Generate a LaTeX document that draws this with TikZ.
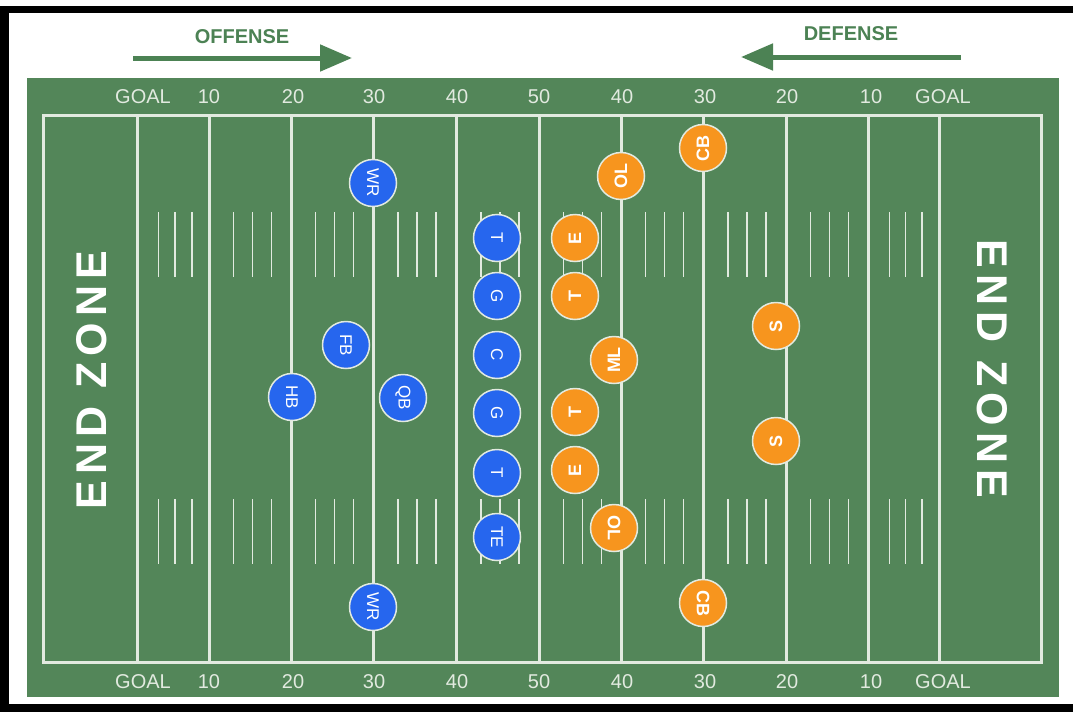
\documentclass[tikz,border=0pt]{standalone}
\usepackage{fontspec}
\setmainfont{Liberation Sans}
\newfontfamily\zonefont[LetterSpace=14]{Liberation Sans}
\usetikzlibrary{arrows.meta,positioning}

\definecolor{fieldgreen}{RGB}{83,134,89}
\definecolor{chalk}{RGB}{226,234,224}
\definecolor{offblue}{RGB}{38,102,238}
\definecolor{deforange}{RGB}{247,149,30}
\definecolor{titlegreen}{RGB}{76,130,84}

\begin{document}
\begin{tikzpicture}[
    x=1pt,
    y=-1pt,
    yardline/.style={
        draw=chalk,
        line width=3pt
    },
    hashmark/.style={
        draw=chalk,
        line width=1.6pt
    },
    yardnum/.style={
        text=chalk,
        inner sep=0pt,
        font=\fontsize{20}{20}\selectfont
    },
    endzone/.style={
        text=white,
        inner sep=0pt,
        font=\zonefont\bfseries\fontsize{43}{43}\selectfont
    },
    player/.style={
        circle,
        draw=chalk,
        line width=1.5pt,
        minimum size=47pt,
        inner sep=0pt,
        text=white
    },
    offense/.style={
        player,
        fill=offblue,
        rotate=-90,
        font=\fontsize{17}{17}\selectfont
    },
    defense/.style={
        player,
        fill=deforange,
        rotate=90,
        font=\bfseries\fontsize{18}{18}\selectfont
    },
    defensedown/.style={
        player,
        fill=deforange,
        rotate=-90,
        font=\bfseries\fontsize{18}{18}\selectfont
    },
    title/.style={
        text=titlegreen,
        font=\bfseries\fontsize{20}{20}\selectfont
    },
    direction/.style={
        draw=titlegreen, line width=5pt, -{Triangle[length=32pt,width=26pt]}
    }
]
\useasboundingbox (0,0) rectangle (1073,712);
\fill[white] (0,0) rectangle (1073,712);

% Frame
\fill[black] (0,6) rectangle (1073,13);
\fill[black] (0,6) rectangle (9,712);
\fill[black] (0,704) rectangle (1073,712);

% Field
\fill[fieldgreen] (27,78) rectangle (1059,697);
\draw[yardline] (43,115) rectangle (1041,662);
\foreach \x in {137,209,291,373,456,539,621,703,786,868,939}
    \draw[yardline] (\x,115) -- (\x,662);
\foreach \a/\b in {137/209,209/291,291/373,373/456,456/539,539/621,621/703,703/786,786/868,868/939}
    \foreach \f in {0.3,0.53,0.76} {
        \draw[hashmark] ({\a+\f*(\b-\a)},212) -- ++(0,65);
        \draw[hashmark] ({\a+\f*(\b-\a)},499) -- ++(0,65);
    }

% Yard numbers
\foreach \x/\t [count=\i] in {143/GOAL,209/10,293/20,374/30,457/40,539/50,622/40,705/30,787/20,871/10,943/GOAL} {
    \node[yardnum] (numtop\i) at (\x,97) {\t};
    \node[yardnum] (numbot\i) at (\x,682) {\t};
}

\node[endzone, rotate=90] (zoneleft) at (92,380) {END ZONE};
\node[endzone, rotate=-90] (zoneright) at (992,369) {END ZONE};

% Directions
\node[title] (offtitle) at (242,37) {OFFENSE};
\node[title] (deftitle) at (851,34) {DEFENSE};
\coordinate (offstart) at (133,58);
\coordinate (offend) at (352,58);
\coordinate (defstart) at (961,57);
\coordinate (defend) at (741,57);
\draw[direction] (offstart) -- (offend);
\draw[direction] (defstart) -- (defend);

% Offense
\node[offense] (wrtop) at (373,183) {WR};
\node[offense] (ltackle) at (497,238) {T};
\node[offense] (lguard) at (497,296) {G};
\node[offense] (center) at (497,355) {C};
\node[offense] (rguard) at (497,413) {G};
\node[offense] (rtackle) at (497,473) {T};
\node[offense] (tend) at (497,537) {TE};
\node[offense] (fback) at (346,345) {FB};
\node[offense] (hback) at (292,397) {HB};
\node[offense] (qback) at (403,398) {QB};
\node[offense] (wrbot) at (373,607) {WR};

% Defense
\node[defense] (cbtop) at (703,148) {CB};
\node[defense] (oltop) at (621,176) {OL};
\node[defense] (dendtop) at (575,238) {E};
\node[defense] (dtacktop) at (575,296) {T};
\node[defense] (mlb) at (614,360) {ML};
\node[defense] (dtackbot) at (575,412) {T};
\node[defense] (dendbot) at (575,470) {E};
\node[defensedown] (olbot) at (614,528) {OL};
\node[defense] (safetytop) at (776,326) {S};
\node[defense] (safetybot) at (776,441) {S};
\node[defensedown] (cbbot) at (703,603) {CB};

\end{tikzpicture}
\end{document}
